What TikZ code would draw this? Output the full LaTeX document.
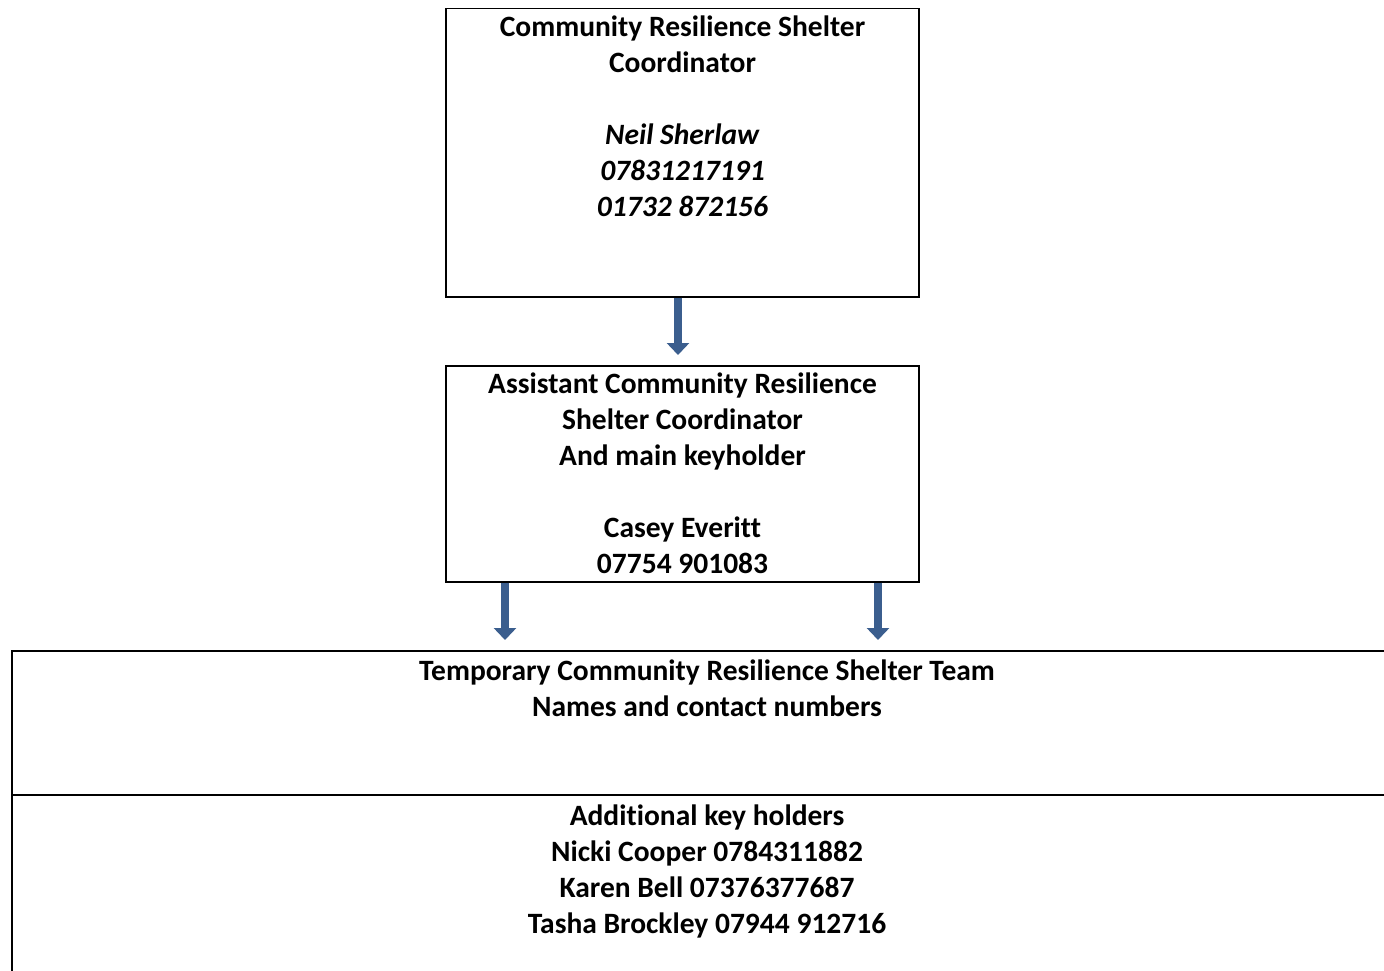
\documentclass[tikz,border=0pt]{standalone}
\usepackage{fontspec}
\setmainfont{Carlito}[Ligatures=NoCommon]
\usetikzlibrary{arrows.meta}
\definecolor{arrowblue}{RGB}{59,94,142}
\begin{document}
\begin{tikzpicture}[x=1pt,y=-1pt,
  box/.style={draw=black,line width=1.5pt,rectangle,inner sep=0},
  txt/.style={align=center,inner sep=0,anchor=north,font=\fontsize{29.5}{36}\selectfont\bfseries},
  down/.style={draw=arrowblue,line width=8pt,-{Triangle[width=22pt,length=12pt]},shorten >=10pt}]
\useasboundingbox (0,0) rectangle (1384,971);
\def\gap{8pt};

\node[box,minimum width=473pt,minimum height=288pt,anchor=north] (coord) at (682.5,8) {};
\node[box,minimum width=473pt,minimum height=216pt,anchor=north] (assist) at (682.5,365) {};
\node[box,minimum width=1420pt,minimum height=360pt,anchor=north west] (team) at (11,650) {};
\coordinate (split) at (11,795);

\node[txt] (coordtxt) at ([yshift=-\gap]coord.north) {Community Resilience Shelter\\Coordinator\\[36pt]\textit{Neil Sherlaw}\\\textit{07831217191}\\\textit{01732 872156}};
\node[txt] (assisttxt) at ([yshift=-\gap]assist.north) {Assistant Community Resilience\\Shelter Coordinator\\And main keyholder\\[36pt]Casey Everitt\\07754 901083};
\node[txt] (teamtxt) at (707,660) {Temporary Community Resilience Shelter Team\\Names and contact numbers};
\node[txt] (keytxt) at (707,805) {Additional key holders\\Nicki Cooper 0784311882\\Karen Bell 07376377687\\Tasha Brockley 07944 912716};

\draw[line width=1.5pt] (split) -- (split -| team.east);

\draw[down] ([xshift=-4.5pt]coord.south) -- ([xshift=-4.5pt]assist.north);
\draw[down] ([xshift=-177.5pt]assist.south) -- ([xshift=-177.5pt]assist.south |- team.north);
\draw[down] ([xshift=195.5pt]assist.south) -- ([xshift=195.5pt]assist.south |- team.north);
\end{tikzpicture}
\end{document}
